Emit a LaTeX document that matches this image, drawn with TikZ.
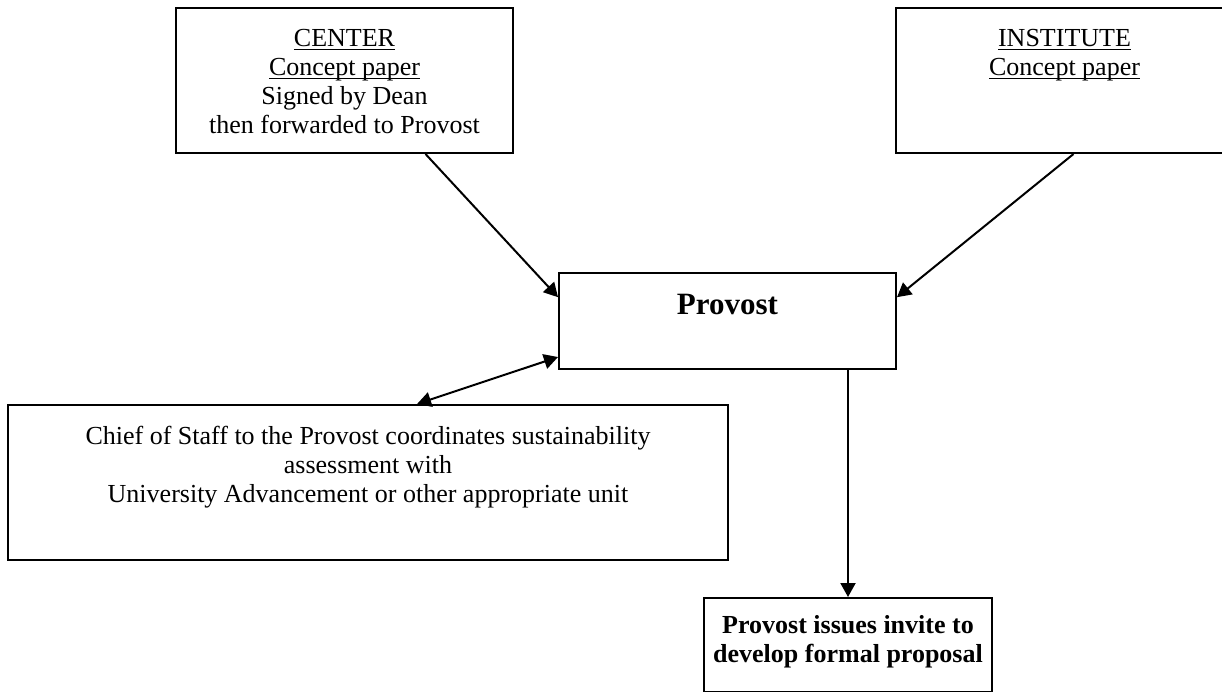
\documentclass[tikz,border=0pt]{standalone}
\usepackage{fontspec}
\setmainfont{Liberation Serif}
\usetikzlibrary{arrows.meta}

\newcommand{\ulin}[1]{\leavevmode\setbox0\hbox{#1}\rlap{\rule[-4pt]{\wd0}{1.6pt}}\box0}

\tikzset{
  box/.style={draw, line width=2pt, inner sep=0pt, anchor=north west},
  txt/.style={anchor=north, align=center, inner sep=0pt, font=\fontsize{26}{29}\selectfont},
  link/.style={line width=2pt, -{Triangle[length=14pt,width=15pt]}}
}

\begin{document}
\begin{tikzpicture}[x=1pt,y=-1pt]
\useasboundingbox (0,0) rectangle (1222,692);

\node[box, minimum width=337pt, minimum height=145pt] (center) at (175,7) {};
\node[box, minimum width=337pt, minimum height=145pt] (institute) at (895,7) {};
\node[box, minimum width=337pt, minimum height=96pt] (provost) at (558,272) {};
\node[box, minimum width=720pt, minimum height=155pt] (chief) at (7,404) {};
\node[box, minimum width=288pt, minimum height=94pt] (invite) at (703,597) {};

\node[txt] (centertext) at ([yshift=-22pt]center.north)
  {\ulin{CENTER}\\\ulin{Concept paper}\\Signed by Dean\\then forwarded to Provost};
\node[txt] (institutetext) at ([yshift=-22pt]institute.north)
  {\ulin{INSTITUTE}\\\ulin{Concept paper}};
\node[txt, font=\fontsize{31}{34}\selectfont\bfseries] (provosttext) at ([yshift=-22pt]provost.north)
  {Provost};
\node[txt] (chieftext) at ([yshift=-22pt]chief.north)
  {Chief of Staff to the Provost coordinates sustainability\\assessment with\\University Advancement or other appropriate unit};
\node[txt, font=\fontsize{26}{29}\selectfont\bfseries] (invitetext) at ([yshift=-18pt]invite.north)
  {Provost issues invite to\\develop formal proposal};

\path[draw,link] ([xshift=81pt]center.south) -- (provost.172);
\path[draw,link] ([xshift=9pt]institute.south) -- (provost.8);
\path[draw,link,{Triangle[length=14pt,width=15pt]}-{Triangle[length=14pt,width=15pt]}] (chief.58) -- (provost.192);
\path[draw,link] (provost.south -| invite.north) -- (invite.north);
\end{tikzpicture}
\end{document}
